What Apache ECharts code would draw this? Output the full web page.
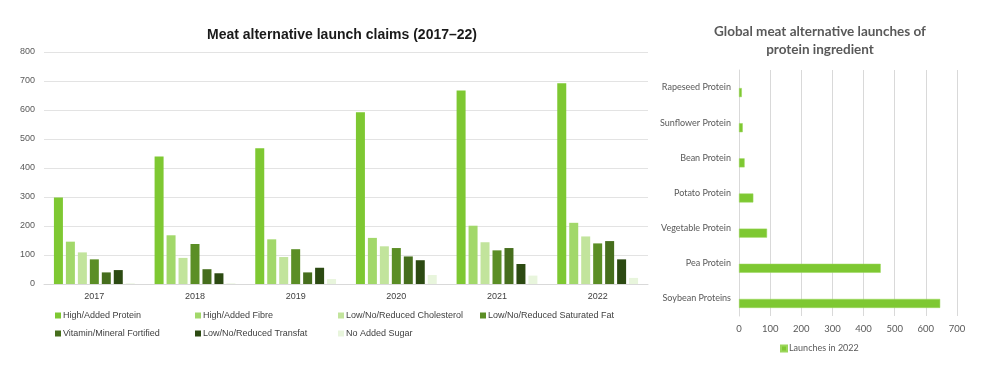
<!DOCTYPE html>
<html>
<head>
<meta charset="utf-8">
<script src="https://cdn.jsdelivr.net/npm/echarts@6/dist/echarts.min.js"></script>
<style>html,body{margin:0;padding:0;background:#fff}#c{width:1000px;height:372px}</style>
</head>
<body>
<div id="c"></div>
<script>
const years = ['2017','2018','2019','2020','2021','2022'];
const claimNames = ['High/Added Protein','High/Added Fibre','Low/No/Reduced Cholesterol','Low/No/Reduced Saturated Fat','Vitamin/Mineral Fortified','Low/No/Reduced Transfat','No Added Sugar'];
const highProtein = [298, 440, 468, 592, 667, 692];
const highFibre = [146, 168, 154, 159, 201, 211];
const lowCholesterol = [109, 90, 93, 130, 144, 164];
const lowSatFat = [85, 138, 120, 124, 116, 140];
const vitaminFortified = [40, 51, 40, 95, 124, 148];
const lowTransfat = [48, 37, 56, 82, 69, 85];
const noAddedSugar = [2, 2, 17, 31, 29, 21];
const claimColors = ['#7ec832','#a2d86a','#c2e49c','#5b8e25','#466e1d','#2c4a12','#e8f5dc'];
const yTicks = [0,100,200,300,400,500,600,700,800];

const proteins = ['Soybean Proteins','Pea Protein','Vegetable Protein','Potato Protein','Bean Protein','Sunflower Protein','Rapeseed Protein'];
const launches2022 = [646, 455, 90, 46, 18, 12, 9];
const xTicks = [0,100,200,300,400,500,600,700];

const claimData = [highProtein, highFibre, lowCholesterol, lowSatFat, vitaminFortified, lowTransfat, noAddedSugar];

const legendPos = [[55,311],[195,311],[338,311],[480,311],[55,329],[195,329],[338,329]];
const leftLegends = claimNames.map((n,i)=>({
  data:[n], left:legendPos[i][0], top:legendPos[i][1], padding:0, itemWidth:6, itemHeight:6, itemGap:0,
  icon:'rect', textStyle:{fontSize:9, color:'#404040', fontFamily:'Liberation Sans Narrow, Liberation Sans, sans-serif', padding:[0,0,0,-3]}
}));

const chart = echarts.init(document.getElementById('c'), null, {renderer:'canvas'});
chart.setOption({
  animation:false,
  title:[
    {text:'Meat alternative launch claims (2017–22)', left:337, top:23, textAlign:'center',
     textStyle:{fontSize:14, fontWeight:'bold', color:'#1a1a1a', fontFamily:'Liberation Sans, sans-serif'}},
    {text:'Global meat alternative launches of\nprotein ingredient', left:815, top:18, textAlign:'center',
     textStyle:{fontSize:13.5, fontWeight:'bold', color:'#595959', lineHeight:18, fontFamily:'Lato, sans-serif'}}
  ],
  legend: leftLegends.concat([{
    data:['Launches in 2022'], left:780, top:344, padding:0, itemWidth:6, itemHeight:6, itemGap:0, icon:'rect',
    textStyle:{fontSize:9, color:'#595959', fontFamily:'Lato, sans-serif', padding:[0,0,0,-3]}
  }]),
  grid:[
    {left:44, right:352, top:52, bottom:88},
    {left:739, right:43, top:70, height:246}
  ],
  xAxis:[
    {type:'category', gridIndex:0, data:years, axisTick:{show:false},
     axisLine:{lineStyle:{color:'#d9d9d9'}},
     axisLabel:{fontSize:9, color:'#404040', margin:8, fontFamily:'Liberation Sans Narrow, Liberation Sans, sans-serif'}},
    {type:'value', gridIndex:1, min:xTicks[0], max:xTicks[xTicks.length-1], interval:100,
     splitLine:{lineStyle:{color:'#d9d9d9'}}, axisLine:{show:false}, axisTick:{show:false},
     axisLabel:{fontSize:9.5, color:'#595959', margin:8, fontFamily:'Lato, sans-serif'}}
  ],
  yAxis:[
    {type:'value', gridIndex:0, min:yTicks[0], max:yTicks[yTicks.length-1], interval:100,
     splitLine:{lineStyle:{color:'#e3e3e3'}}, axisLine:{show:false}, axisTick:{show:false},
     axisLabel:{fontSize:9, color:'#595959', margin:9, fontFamily:'Liberation Sans Narrow, Liberation Sans, sans-serif'}},
    {type:'category', gridIndex:1, data:proteins, axisTick:{show:false},
     axisLine:{lineStyle:{color:'#d9d9d9'}},
     axisLabel:{fontSize:9, color:'#595959', margin:8, fontFamily:'Lato, sans-serif'}}
  ],
  series: claimNames.map((n,i)=>({
    name:n, type:'bar', xAxisIndex:0, yAxisIndex:0, data:claimData[i],
    barWidth:9, barGap:'33%', itemStyle:{color:claimColors[i]}
  })).concat([
    {name:'_spacer', type:'bar', xAxisIndex:1, yAxisIndex:1, data:proteins.map(()=>null),
     barWidth:9, barGap:'11%', silent:true},
    {name:'Launches in 2022', type:'bar', xAxisIndex:1, yAxisIndex:1, data:launches2022,
     barWidth:9, barGap:'11%', itemStyle:{color:'#7ec832', borderColor:'#9bd65a', borderWidth:0.5}}
  ])
});
</script>
</body>
</html>
